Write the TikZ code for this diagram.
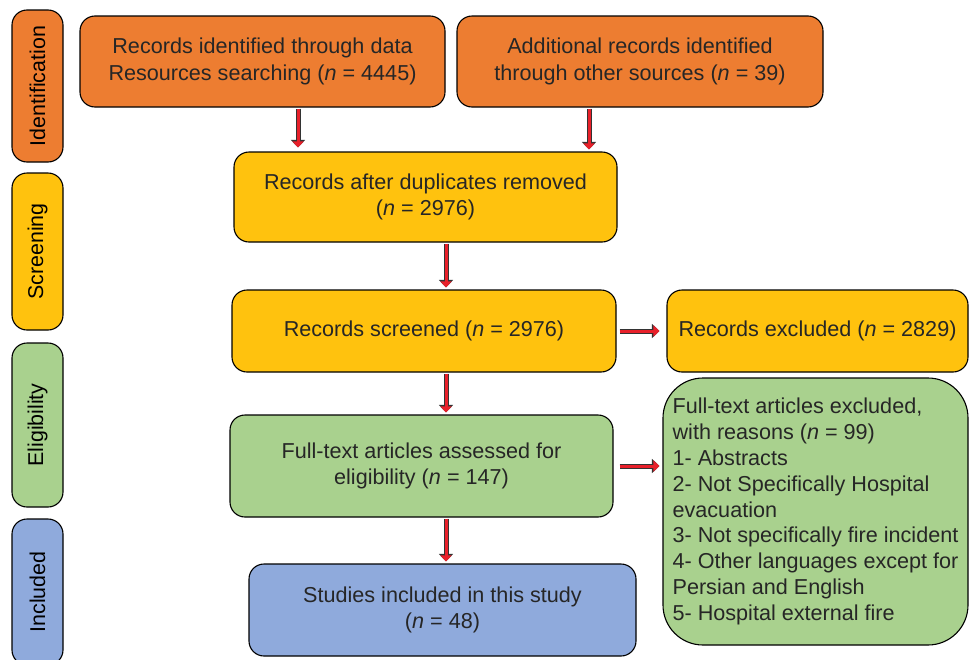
\documentclass[tikz,border=0pt]{standalone}
\usepackage{fontspec}
\setmainfont{Liberation Sans}
\usetikzlibrary{arrows.meta}
\definecolor{orng}{HTML}{ED7D31}
\definecolor{yel}{HTML}{FFC20E}
\definecolor{grn}{HTML}{A9D18E}
\definecolor{blu}{HTML}{8FAADC}
\definecolor{txt}{HTML}{262626}
\definecolor{arr}{HTML}{E8202A}
\begin{document}
\begin{tikzpicture}[x=1pt,y=-1pt,
  box/.style={draw=black, line width=1.1pt, rounded corners=15pt, align=center,
    text=txt, font=\fontsize{21.6}{26.5}\selectfont, inner sep=0pt},
  side/.style={box, text=black, font=\fontsize{21.4}{26}\selectfont, rotate=90, minimum height=51pt},
  flow/.style={line width=3pt, draw=arr, -{Triangle[length=6pt,width=11pt]},
    preaction={draw=black!80, line width=5pt, -{Triangle[length=7.5pt,width=14pt]}}}]
\useasboundingbox (0,0) rectangle (969,659);
\clip (0,0) rectangle (969,659);
% side labels
\node[side, fill=orng, minimum width=152pt] (s1) at (37.5,86) {Identification};
\node[side, fill=yel, minimum width=157pt] (s2) at (37.5,251.5) {Screening};
\node[side, fill=grn, minimum width=164pt] (s3) at (37.5,425) {Eligibility};
\node[side, fill=blu, minimum width=146pt] (s4) at (37.5,592) {Included};
% main boxes
\node[box, fill=orng, minimum width=365pt, minimum height=91pt] (b1) at (262.5,61.5)
  {Records identified through data\\Resources searching (\textit{n} = 4445)};
\node[box, fill=orng, minimum width=366pt, minimum height=91pt] (b2) at (640,61.5)
  {Additional records identified\\through other sources (\textit{n} = 39)};
\node[box, fill=yel, minimum width=383pt, minimum height=90pt] (b3) at (425.5,197)
  {Records after duplicates removed\\(\textit{n} = 2976)};
\node[box, fill=yel, minimum width=384pt, minimum height=82pt] (b4) at (424,331)
  {Records screened (\textit{n} = 2976)};
\node[box, fill=yel, minimum width=301pt, minimum height=82pt] (b5) at (817.5,331)
  {Records excluded (\textit{n} = 2829)};
\node[box, fill=grn, minimum width=383pt, minimum height=102pt] (b6) at (421.5,466)
  {Full-text articles assessed for\\eligibility (\textit{n} = 147)};
\node[box, fill=grn, rounded corners=40pt, minimum width=305pt, minimum height=267pt, align=left,
  font=\fontsize{21.6}{25.8}\selectfont] (b7) at (815.5,511.5)
  {Full-text articles excluded,\\with reasons (\textit{n} = 99)\\1- Abstracts\\2- Not Specifically Hospital\\evacuation\\3- Not specifically fire incident\\4- Other languages except for\\Persian and English\\5- Hospital external fire};
\node[box, fill=blu, minimum width=387pt, minimum height=92pt] (b8) at (442.5,610)
  {Studies included in this study\\(\textit{n} = 48)};
% arrows
\draw[flow, shorten <=1pt, shorten >=4pt] ([xshift=35.5pt]b1.south) -- ([xshift=35.5pt]b1.south |- b3.north);
\draw[flow, shorten <=1pt, shorten >=2pt] ([xshift=-51pt]b2.south) -- ([xshift=-51pt]b2.south |- b3.north);
\draw[flow, shorten <=1pt, shorten >=2pt] ([xshift=20.5pt]b3.south) -- ([xshift=20.5pt]b3.south |- b4.north);
\draw[flow, shorten <=1pt, shorten >=2pt] ([xshift=22pt]b4.south) -- ([xshift=22pt]b4.south |- b6.north);
\draw[flow, shorten <=1pt, shorten >=2pt] ([xshift=24.5pt]b6.south) -- ([xshift=24.5pt]b6.south |- b8.north);
\draw[flow, shorten <=3pt, shorten >=7pt] (b4.east) -- (b5.west);
\draw[flow, shorten <=6pt, shorten >=3pt] (b6.east) -- (b6.east -| b7.west);
\end{tikzpicture}
\end{document}
